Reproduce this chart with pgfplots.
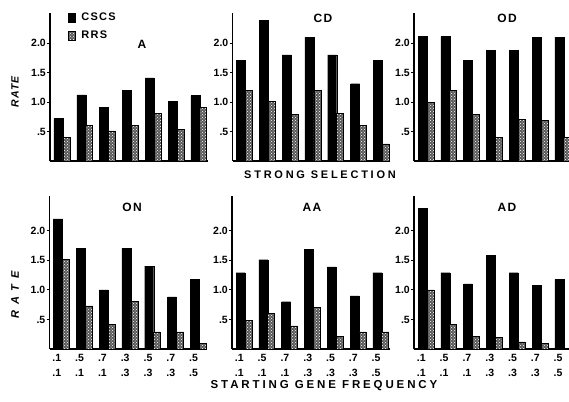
\documentclass[border=0pt]{standalone}
\usepackage{fontspec}
\setmainfont{Liberation Sans}
\newfontfamily\spc{Liberation Sans}[LetterSpace=25]
\newfontfamily\spl{Liberation Sans}[LetterSpace=12]
\usepackage{pgfplots}
\pgfplotsset{compat=1.18}
\usetikzlibrary{patterns}

\pgfplotsset{
  panel/.style={
    scale only axis, width=157.8pt, xmin=-0.57, xmax=6.35, ymin=0,
    axis x line*=bottom, axis y line*=left,
    axis line style={-, line width=1.4pt},
    ytick={0.5,1,1.5,2}, yticklabels={.5,1.0,1.5,2.0},
    tick align=outside, major tick length=3pt,
    y tick style={line width=0.9pt, black},
    x tick style={draw=none},
    yticklabel style={font=\bfseries\fontsize{10.5}{10.5}\selectfont, inner sep=1pt},
    clip=false,
    legend image code/.code={\draw[#1] (0pt,-4.5pt) rectangle (7pt,4.5pt);},
  },
  toprow/.style={panel, ymax=2.5, height=147.5pt, xtick=\empty},
  botrow/.style={panel, ymax=2.58, height=152.5pt,
    xtick={-0.25,0.75,1.75,2.75,3.75,4.75,5.75},
    xticklabels={{.1\\.1},{.5\\.1},{.7\\.1},{.3\\.3},{.5\\.3},{.7\\.3},{.5\\.5}},
    xticklabel style={align=center, font=\bfseries\fontsize{10.5}{15}\selectfont, inner sep=1pt, yshift=-1pt}},
  dark/.style={ybar, bar width=9pt, bar shift=-4.5pt, fill=black, draw=black},
  hatch/.style={ybar, bar width=7pt, bar shift=3.5pt, fill=black!65, draw=black, line width=0.7pt,
    postaction={pattern=crosshatch dots, pattern color=white}},
}

\begin{document}
\begin{tikzpicture}[x=1pt,y=1pt]
\useasboundingbox (0,0) rectangle (569,401);

% ---------- A ----------
\begin{axis}[toprow, at={(50pt,240pt)}, anchor=south west,
  legend style={at={(axis description cs:0.11,1.02)}, anchor=north west, draw=none, fill=none,
    inner sep=0pt, font=\bfseries\spl\fontsize{11}{11}\selectfont, row sep=5pt,
    cells={anchor=west}},
  legend cell align=left]
\addplot[dark] coordinates {(0,0.72) (1,1.12) (2,0.91) (3,1.20) (4,1.41) (5,1.01) (6,1.11)};
\addplot[hatch] coordinates {(0,0.40) (1,0.61) (2,0.51) (3,0.61) (4,0.81) (5,0.53) (6,0.91)};
\legend{\hspace{4pt}CSCS,\hspace{4pt}RRS}
\end{axis}

% ---------- CD ----------
\begin{axis}[toprow, at={(232.5pt,240pt)}, anchor=south west]
\addplot[dark] coordinates {(0,1.70) (1,2.38) (2,1.80) (3,2.10) (4,1.80) (5,1.31) (6,1.71)};
\addplot[hatch] coordinates {(0,1.20) (1,1.01) (2,0.79) (3,1.19) (4,0.81) (5,0.60) (6,0.29)};
\end{axis}

% ---------- OD ----------
\begin{axis}[toprow, at={(414pt,240pt)}, anchor=south west]
\addplot[dark] coordinates {(0,2.11) (1,2.11) (2,1.70) (3,1.88) (4,1.88) (5,2.10) (6,2.10)};
\addplot[hatch] coordinates {(0,0.99) (1,1.19) (2,0.79) (3,0.40) (4,0.70) (5,0.69) (6,0.40)};
\end{axis}

% ---------- ON ----------
\begin{axis}[botrow, at={(49.5pt,52pt)}, anchor=south west]
\addplot[dark] coordinates {(0,2.20) (1,1.70) (2,1.00) (3,1.70) (4,1.40) (5,0.88) (6,1.18)};
\addplot[hatch] coordinates {(0,1.51) (1,0.73) (2,0.41) (3,0.80) (4,0.29) (5,0.29) (6,0.10)};
\end{axis}

% ---------- AA ----------
\begin{axis}[botrow, at={(232pt,52pt)}, anchor=south west]
\addplot[dark] coordinates {(0,1.29) (1,1.51) (2,0.80) (3,1.69) (4,1.39) (5,0.90) (6,1.29)};
\addplot[hatch] coordinates {(0,0.49) (1,0.60) (2,0.39) (3,0.71) (4,0.21) (5,0.29) (6,0.29)};
\end{axis}

% ---------- AD ----------
\begin{axis}[botrow, at={(414pt,52pt)}, anchor=south west]
\addplot[dark] coordinates {(0,2.38) (1,1.29) (2,1.10) (3,1.59) (4,1.29) (5,1.08) (6,1.18)};
\addplot[hatch] coordinates {(0,1.00) (1,0.41) (2,0.21) (3,0.20) (4,0.12) (5,0.10)};
\end{axis}

% ---------- texts ----------
\begin{scope}[every node/.style={font=\bfseries\spl\fontsize{12}{12}\selectfont, inner sep=0pt}]
\node at (142,357) {A};
\node at (323,383) {CD};
\node at (507,383) {OD};
\node at (132,194) {ON};
\node at (312,194) {AA};
\node at (507,194) {AD};
\end{scope}
\node[font=\bfseries\spc\fontsize{11}{11}\selectfont, inner sep=0pt] at (320,226) {STRONG SELECTION};
\node[font=\bfseries\spc\fontsize{11.5}{11.5}\selectfont, inner sep=0pt] at (324,15) {STARTING GENE FREQUENCY};
\node[rotate=90, font=\bfseries\itshape\spl\fontsize{10.5}{10.5}\selectfont, inner sep=0pt] at (15,309) {RATE};
\node[rotate=90, font=\bfseries\itshape\spc\fontsize{11}{11}\selectfont, inner sep=0pt] at (15,106) {R A T E};
\end{tikzpicture}
\end{document}
